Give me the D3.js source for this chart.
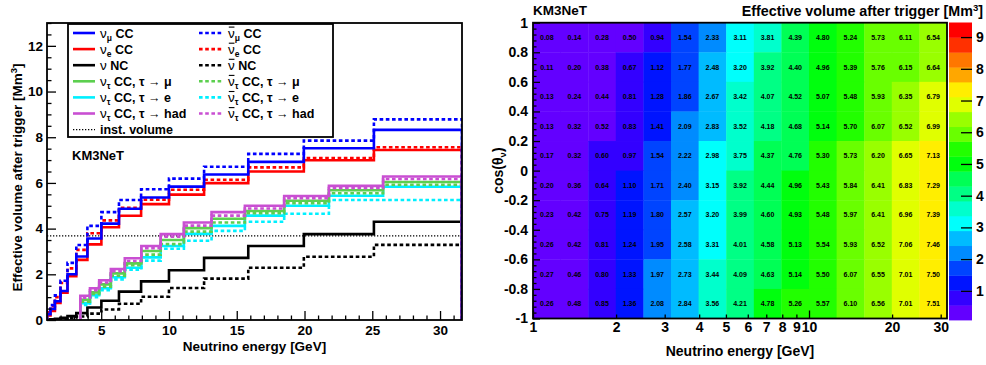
<!DOCTYPE html>
<html><head><meta charset="utf-8">
<script src="https://cdn.jsdelivr.net/npm/d3@7"></script>
<style>
body{margin:0;background:#fff}
svg text{font-family:'Liberation Sans',Arial,Helvetica,sans-serif;font-weight:bold}
</style>
</head><body>
<svg id="c" width="986" height="365"></svg>
<script>
// ---------------- DATA ----------------
// neutrino-energy bin edges [GeV] (log bins)
const nuEdges = [1, 1.259, 1.585, 1.995, 2.512, 3.162, 3.981, 5.012, 6.310, 7.943, 10, 12.59, 15.85, 19.95, 25.12, 31.62];
// tau channels bin edges [GeV]
const tauEdges = [3.46, 4.17, 4.85, 5.71, 6.74, 7.96, 9.39, 11.1, 13.14, 15.6, 18.5, 21.8, 25.8, 31.62];

const numuCC    = [0.25, 0.48, 0.82, 1.27, 2.00, 2.78, 3.57, 4.22, 4.87, 5.36, 5.84, 6.37, 6.92, 7.52, 8.32];
const numubarCC = [0.38, 0.65, 1.08, 1.72, 2.50, 3.28, 4.12, 4.72, 5.25, 5.72, 6.19, 6.71, 7.27, 7.85, 8.78];
const nueCC     = [0.20, 0.40, 0.75, 1.20, 1.92, 2.63, 3.31, 4.06, 4.56, 5.07, 5.49, 5.99, 6.50, 6.99, 7.44];
const nuebarCC  = [0.34, 0.60, 1.00, 1.62, 2.26, 3.07, 3.80, 4.36, 4.91, 5.27, 5.70, 6.14, 6.68, 7.09, 7.56];
const nuNC      = [0.02, 0.03, 0.05, 0.10, 0.17, 0.30, 0.55, 0.84, 1.24, 1.69, 2.18, 2.72, 3.24, 3.76, 4.30];
const nubarNC   = [0.01, 0.02, 0.03, 0.05, 0.08, 0.15, 0.28, 0.46, 0.71, 1.02, 1.40, 1.81, 2.29, 2.77, 3.29];

const nutauMu     = [0.88, 1.21, 1.56, 2.04, 2.48, 3.02, 3.50, 4.02, 4.43, 4.77, 5.22, 5.68, 6.04];
const nutaubarMu  = [0.80, 1.14, 1.46, 1.94, 2.40, 2.86, 3.32, 3.87, 4.27, 4.67, 5.11, 5.55, 5.92];
const nutauE      = [0.73, 1.09, 1.39, 1.87, 2.29, 2.74, 3.24, 3.77, 4.12, 4.57, 5.00, 5.44, 5.83];
const nutaubarE   = [0.66, 1.00, 1.30, 1.78, 2.20, 2.60, 3.12, 3.47, 3.90, 4.30, 4.65, 5.25, 5.25];
const nutauHad    = [1.06, 1.39, 1.74, 2.23, 2.70, 3.24, 3.76, 4.27, 4.72, 5.00, 5.43, 5.87, 6.28];
const nutaubarHad = [0.98, 1.30, 1.64, 2.14, 2.58, 3.14, 3.65, 4.13, 4.57, 4.88, 5.33, 5.78, 6.17];

const instVolume = 3.68;

const leftXTicks = [5, 10, 15, 20, 25, 30];
const leftYTicks = [0, 2, 4, 6, 8, 10, 12];

// heatmap: cos(theta) bin edges from top to bottom; rows listed top -> bottom
const cosEdges = [1, 0.8, 0.6, 0.4, 0.2, 0, -0.2, -0.4, -0.6, -0.8, -1];
const heatRows = [
 [0.08,0.14,0.28,0.50,0.94,1.54,2.33,3.11,3.81,4.39,4.80,5.24,5.73,6.11,6.54],
 [0.11,0.20,0.38,0.67,1.12,1.77,2.48,3.20,3.92,4.40,4.96,5.39,5.76,6.15,6.64],
 [0.13,0.24,0.44,0.81,1.28,1.86,2.67,3.42,4.07,4.52,5.07,5.48,5.93,6.35,6.79],
 [0.13,0.32,0.52,0.83,1.41,2.09,2.83,3.52,4.18,4.68,5.14,5.70,6.07,6.52,6.99],
 [0.17,0.32,0.60,0.97,1.54,2.22,2.98,3.75,4.37,4.76,5.30,5.73,6.20,6.65,7.13],
 [0.20,0.36,0.64,1.10,1.71,2.40,3.15,3.92,4.44,4.96,5.43,5.84,6.41,6.83,7.29],
 [0.23,0.42,0.75,1.19,1.80,2.57,3.20,3.99,4.60,4.93,5.48,5.97,6.41,6.96,7.39],
 [0.26,0.42,0.81,1.24,1.95,2.58,3.31,4.01,4.58,5.13,5.54,5.93,6.52,7.06,7.46],
 [0.27,0.46,0.80,1.33,1.97,2.73,3.44,4.09,4.63,5.14,5.50,6.07,6.55,7.01,7.50],
 [0.26,0.48,0.85,1.36,2.08,2.84,3.56,4.21,4.78,5.26,5.57,6.10,6.56,7.01,7.51]
];
const rightXTicks = [1,2,3,4,5,6,7,8,9,10,20,30];
const rightYTicks = [1,0.8,0.6,0.4,0.2,0,-0.2,-0.4,-0.6,-0.8,-1];
const zRange = [0.08, 9.46];
const zTicks = [1,2,3,4,5,6,7,8,9];
const nContours = 20;

// ---------------- DRAW ----------------
const svg = d3.select("#c");
const C = {blue:"#0000ff", red:"#ff0000", black:"#000000", green:"#5ccf4f", cyan:"#00f0ff", magenta:"#c94fd2"};
const DASH = "3.6,2.6";

// ===== Left panel =====
const xL = d3.scaleLinear().domain([1, 31.62]).range([47, 462]);
const yL = d3.scaleLinear().domain([0, 13]).range([320, 23]);

svg.append("clipPath").attr("id","clipL").append("rect")
  .attr("x", xL.range()[0]).attr("y", yL.range()[1])
  .attr("width", xL.range()[1]-xL.range()[0]).attr("height", yL.range()[0]-yL.range()[1]);

const gL = svg.append("g");
const plotL = gL.append("g").attr("clip-path","url(#clipL)");

// inst. volume
plotL.append("line").attr("x1", xL(1)).attr("x2", xL(31.62))
  .attr("y1", yL(instVolume)).attr("y2", yL(instVolume))
  .attr("stroke","#000").attr("stroke-width",1.3).attr("stroke-dasharray","1.3,1.7");

function stepPts(edges, vals){
  const pts = [[edges[0], 0]];
  vals.forEach((v,i)=>{ pts.push([edges[i], v]); pts.push([edges[i+1], v]); });
  pts.push([edges[edges.length-1], 0]);
  return pts;
}
const lineL = d3.line().x(d=>xL(d[0])).y(d=>yL(d[1]));
const series = [
  {v:nubarNC, e:nuEdges, c:C.black, d:true},
  {v:nuNC, e:nuEdges, c:C.black, d:false},
  {v:nutaubarE, e:tauEdges, c:C.cyan, d:true},
  {v:nutauE, e:tauEdges, c:C.cyan, d:false},
  {v:nutaubarMu, e:tauEdges, c:C.green, d:true},
  {v:nutauMu, e:tauEdges, c:C.green, d:false},
  {v:nutaubarHad, e:tauEdges, c:C.magenta, d:true},
  {v:nutauHad, e:tauEdges, c:C.magenta, d:false},
  {v:nueCC, e:nuEdges, c:C.red, d:false},
  {v:nuebarCC, e:nuEdges, c:C.red, d:true},
  {v:numuCC, e:nuEdges, c:C.blue, d:false},
  {v:numubarCC, e:nuEdges, c:C.blue, d:true}
];
series.forEach(s=>{
  plotL.append("path").attr("d", lineL(stepPts(s.e, s.v)))
    .attr("fill","none").attr("stroke", s.c).attr("stroke-width", 2.6)
    .attr("stroke-dasharray", s.d ? DASH : null);
});

function styleAxis(g, fs){
  g.attr("font-family","'Liberation Sans',Arial,sans-serif").attr("font-size",fs).attr("font-weight","bold");
  g.select(".domain").remove();
  g.selectAll(".tick line").attr("stroke","#000").attr("stroke-width",1.3);
  g.selectAll(".tick text").attr("fill","#000");
}
// x axis left
const xMinorL = d3.range(2, 32).filter(v=>v%5!==0);
gL.append("g").attr("transform",`translate(0,${yL(0)})`)
  .call(d3.axisBottom(xL).tickValues(xMinorL).tickFormat("").tickSizeInner(-4.5).tickSizeOuter(0))
  .call(g=>styleAxis(g,13.5));
gL.append("g").attr("transform",`translate(0,${yL(0)})`)
  .call(d3.axisBottom(xL).tickValues(leftXTicks).tickFormat(d3.format("d")).tickSizeInner(-9).tickSizeOuter(0).tickPadding(5))
  .call(g=>styleAxis(g,13.5));
// y axis left
const yMinorL = d3.range(0.5, 13.01, 0.5).filter(v=>v%2!==0);
gL.append("g").attr("transform",`translate(${xL(1)},0)`)
  .call(d3.axisLeft(yL).tickValues(yMinorL).tickFormat("").tickSizeInner(-4.5).tickSizeOuter(0))
  .call(g=>styleAxis(g,13.5));
gL.append("g").attr("transform",`translate(${xL(1)},0)`)
  .call(d3.axisLeft(yL).tickValues(leftYTicks).tickFormat(d3.format("d")).tickSizeInner(-9).tickSizeOuter(0).tickPadding(4))
  .call(g=>styleAxis(g,13.5));

gL.append("rect").attr("x", xL.range()[0]).attr("y", yL.range()[1])
  .attr("width", xL.range()[1]-xL.range()[0]).attr("height", yL.range()[0]-yL.range()[1])
  .attr("fill","none").attr("stroke","#000").attr("stroke-width",1.8);

gL.append("text").attr("x", (xL.range()[0]+xL.range()[1])/2).attr("y", 351)
  .attr("text-anchor","middle").attr("font-size",13.5).text("Neutrino energy [GeV]");
const ytL = gL.append("text").attr("transform",`translate(21.5,${(yL.range()[0]+yL.range()[1])/2+6}) rotate(-90)`)
  .attr("text-anchor","middle").attr("font-size",13.5);
ytL.append("tspan").text("Effective volume after trigger [Mm");
ytL.append("tspan").attr("dy",-5).attr("font-size",9.5).text("3");
ytL.append("tspan").attr("dy",5).text("]");

gL.append("text").attr("x",72).attr("y",160).attr("font-size",13).text("KM3NeT");

// legend
const leg = gL.append("g");
leg.append("rect").attr("x",68).attr("y",24).attr("width",265).attr("height",113)
  .attr("fill","#fff").attr("stroke","#000").attr("stroke-width",1.8);
const legRows = [
  [{c:C.blue,d:false,lab:[["ν"],["μ","sub"],[" CC"]]}, {c:C.blue,d:true,lab:[["ν","bar"],["μ","sub"],[" CC"]]}],
  [{c:C.red,d:false,lab:[["ν"],["e","sub"],[" CC"]]}, {c:C.red,d:true,lab:[["ν","bar"],["e","sub"],[" CC"]]}],
  [{c:C.black,d:false,lab:[["ν"],[" NC"]]}, {c:C.black,d:true,lab:[["ν","bar"],[" NC"]]}],
  [{c:C.green,d:false,lab:[["ν"],["τ","sub"],[" CC, τ → μ"]]}, {c:C.green,d:true,lab:[["ν","bar"],["τ","sub"],[" CC, τ → μ"]]}],
  [{c:C.cyan,d:false,lab:[["ν"],["τ","sub"],[" CC, τ → e"]]}, {c:C.cyan,d:true,lab:[["ν","bar"],["τ","sub"],[" CC, τ → e"]]}],
  [{c:C.magenta,d:false,lab:[["ν"],["τ","sub"],[" CC, τ → had"]]}, {c:C.magenta,d:true,lab:[["ν","bar"],["τ","sub"],[" CC, τ → had"]]}],
  [{c:"#000",d:"inst",lab:[["inst. volume"]]}]
];
const colX = [[73,95,100],[199,222,228]];
legRows.forEach((row,ri)=>{
  const yy = 33 + ri*16.1;
  row.forEach((ent,ci)=>{
    const [x1,x2,tx] = colX[ci];
    leg.append("line").attr("x1",x1).attr("x2",x2).attr("y1",yy).attr("y2",yy)
      .attr("stroke",ent.c)
      .attr("stroke-width", ent.d==="inst" ? 1.3 : 2.6)
      .attr("stroke-dasharray", ent.d==="inst" ? "1.3,1.7" : (ent.d ? DASH : null));
    const base = yy + 4.6;
    const t = leg.append("text").attr("x",tx).attr("y",base).attr("font-size",12.5);
    let shifted = false, hasBar = false;
    ent.lab.forEach(([s,k])=>{
      const ts = t.append("tspan").text(s);
      if (k==="sub"){ ts.attr("dy",3).attr("font-size",8.5); shifted=true; }
      else if (shifted){ ts.attr("dy",-3); shifted=false; }
      if (s==="ν") ts.attr("font-weight","normal").attr("font-size",13.5);
      if (k==="bar") hasBar = true;
    });
    if (hasBar){
      const ext = t.node().getExtentOfChar(0);
      leg.append("line").attr("x1", ext.x+0.8).attr("x2", ext.x+ext.width-0.3)
        .attr("y1", base-10.5).attr("y2", base-10.5).attr("stroke","#000").attr("stroke-width",1.1);
    }
  });
});

// ===== Right panel =====
const xR = d3.scaleLog().domain([1, 31.62]).range([533, 947]);
const yR = d3.scaleLinear().domain([-1, 1]).range([318.5, 22.7]);
const zS = d3.scaleLinear().domain(zRange).range([320, 22.5]);
const gR = svg.append("g");

function contourColor(v){
  let k = Math.floor((v - zRange[0]) / (zRange[1]-zRange[0]) * nContours);
  k = Math.max(0, Math.min(nContours-1, k));
  const idx = Math.floor((k + 0.99) * 50 / nContours);
  const hue = 280 - (idx + 1) * 5.6;
  return d3.hsl(hue, 1, 0.5).toString();
}

heatRows.forEach((row, ri)=>{
  row.forEach((v, ci)=>{
    const x0 = xR(nuEdges[ci]), x1 = xR(nuEdges[ci+1]);
    const y0 = yR(cosEdges[ri]), y1 = yR(cosEdges[ri+1]);
    gR.append("rect").attr("x",x0).attr("y",y0).attr("width",x1-x0+0.4).attr("height",y1-y0+0.4)
      .attr("fill",contourColor(v));
  });
});
heatRows.forEach((row, ri)=>{
  row.forEach((v, ci)=>{
    const xc = xR(Math.sqrt(nuEdges[ci]*nuEdges[ci+1]));
    const yc = yR((cosEdges[ri]+cosEdges[ri+1])/2);
    gR.append("text").attr("x",xc).attr("y",yc+2.5).attr("text-anchor","middle")
      .attr("font-size",7).attr("fill","#000").text(d3.format(".2f")(v));
  });
});

// right axes
const xMinorR = [2,3,4,5,6,7,8,9,20,30];
gR.append("g").attr("transform",`translate(0,${yR(-1)})`)
  .call(d3.axisBottom(xR).tickValues(xMinorR).tickFormat("").tickSizeInner(-4).tickSizeOuter(0))
  .call(g=>styleAxis(g,14));
gR.append("g").attr("transform",`translate(0,${yR(-1)})`)
  .call(d3.axisBottom(xR).tickValues([1,10]).tickFormat("").tickSizeInner(-8).tickSizeOuter(0))
  .call(g=>styleAxis(g,14));
gR.append("g").attr("transform",`translate(0,${yR(-1)})`)
  .call(d3.axisBottom(xR).tickValues(rightXTicks).tickFormat(d3.format("d")).tickSizeInner(0).tickSizeOuter(0).tickPadding(4))
  .call(g=>styleAxis(g,14));
const yMinorR = d3.range(0,51).map(i=>-1+i*0.04).filter(v=>Math.abs(Math.round(v*5)-v*5)>1e-6);
gR.append("g").attr("transform",`translate(${xR(1)},0)`)
  .call(d3.axisLeft(yR).tickValues(yMinorR).tickFormat("").tickSizeInner(-3.5).tickSizeOuter(0))
  .call(g=>styleAxis(g,14));
gR.append("g").attr("transform",`translate(${xR(1)},0)`)
  .call(d3.axisLeft(yR).tickValues(rightYTicks).tickFormat(d3.format("~g")).tickSizeInner(-7).tickSizeOuter(0).tickPadding(5))
  .call(g=>styleAxis(g,14));
gR.selectAll(".tick text").filter(function(){return this.textContent.startsWith("−");}).text(function(){return this.textContent.replace("−","-");});

gR.append("rect").attr("x", xR.range()[0]).attr("y", yR.range()[1])
  .attr("width", xR.range()[1]-xR.range()[0]).attr("height", yR.range()[0]-yR.range()[1])
  .attr("fill","none").attr("stroke","#000").attr("stroke-width",1.8);

gR.append("text").attr("x", (xR.range()[0]+xR.range()[1])/2).attr("y", 356)
  .attr("text-anchor","middle").attr("font-size",14).text("Neutrino energy [GeV]");
const ytR = gR.append("text").attr("transform",`translate(503,${(yR.range()[0]+yR.range()[1])/2}) rotate(-90)`)
  .attr("text-anchor","middle").attr("font-size",14);
ytR.append("tspan").text("cos(θ");
ytR.append("tspan").attr("dy",3).attr("font-size",9.5).text("ν");
ytR.append("tspan").attr("dy",-3).text(")");

gR.append("text").attr("x",533).attr("y",15).attr("font-size",13.5).text("KM3NeT");
const tR = gR.append("text").attr("x",983).attr("y",16).attr("text-anchor","end").attr("font-size",14.3);
tR.append("tspan").text("Effective volume after trigger [Mm");
tR.append("tspan").attr("dy",-5).attr("font-size",9.5).text("3");
tR.append("tspan").attr("dy",5).text("]");

// color bar
const cb = gR.append("g");
const cbX0 = 949, cbX1 = 972;
d3.range(nContours).forEach(k=>{
  const lo = zRange[0] + k*(zRange[1]-zRange[0])/nContours;
  const hi = zRange[0] + (k+1)*(zRange[1]-zRange[0])/nContours;
  cb.append("rect").attr("x",cbX0).attr("y",zS(hi)).attr("width",cbX1-cbX0).attr("height",zS(lo)-zS(hi)+0.4)
    .attr("fill", contourColor((lo+hi)/2));
});
cb.append("g").attr("transform",`translate(${cbX1},0)`)
  .call(d3.axisRight(zS).tickValues(zTicks).tickFormat(d3.format("d")).tickSizeInner(-11).tickSizeOuter(0).tickPadding(4))
  .call(g=>styleAxis(g,14));
</script>
</body></html>
